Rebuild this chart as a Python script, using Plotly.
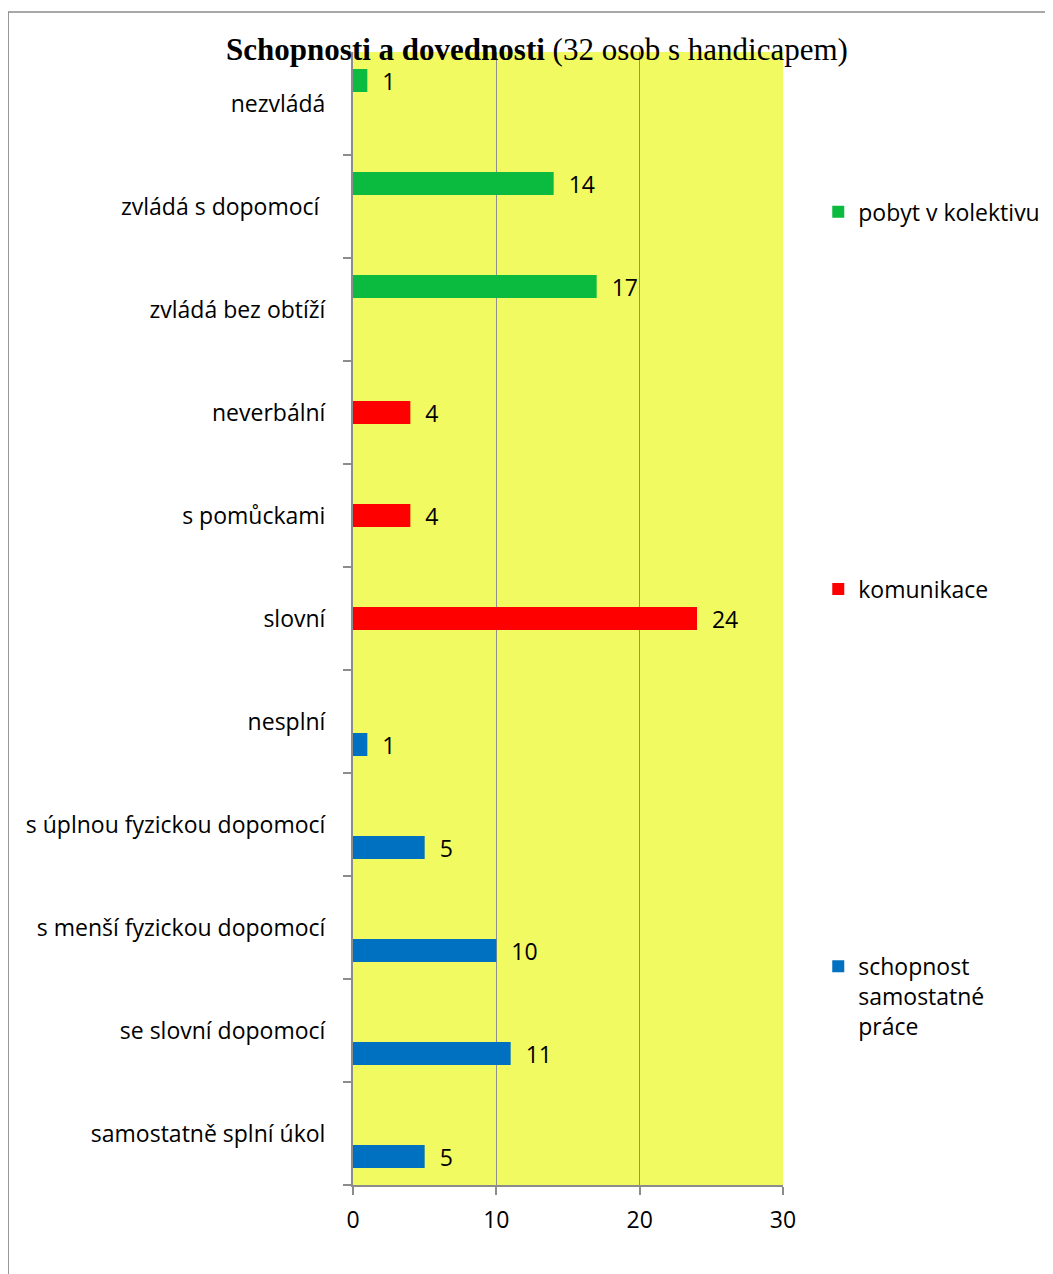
import plotly.graph_objects as go

# categories from bottom to top (plotly puts the first category at the bottom)
categories = [
    "samostatně splní úkol",
    "se slovní dopomocí",
    "s menší fyzickou dopomocí",
    "s úplnou fyzickou dopomocí",
    "nesplní",
    "slovní",
    "s pomůckami",
    "neverbální",
    "zvládá bez obtíží",
    "zvládá s dopomocí\u00a0",
    "nezvládá",
]
samostatna_prace = [5, 11, 10, 5, 1, None, None, None, None, None, None]
komunikace = [None, None, None, None, None, 24, 4, 4, None, None, None]
kolektiv = [None, None, None, None, None, None, None, None, 17, 14, 1]

x_ticks = [0, 10, 20, 30]

FONT = "Open Sans, sans-serif"
FONT_SIZE = 23
AXIS_GREY = "#8c8c8c"

series = [
    ("schopnost<br>samostatné<br>práce", samostatna_prace, "#0070C0", "legend3"),
    ("komunikace", komunikace, "#FF0000", "legend2"),
    ("pobyt v kolektivu", kolektiv, "#0BBB40", "legend"),
]

fig = go.Figure()
for name, values, color, legend in series:
    fig.add_trace(
        go.Bar(
            y=categories,
            x=values,
            name=name,
            orientation="h",
            marker={"color": color, "line": {"width": 0}},
            texttemplate="\u00a0\u00a0%{x}",
            textposition="outside",
            constraintext="none",
            textfont={"size": FONT_SIZE, "color": "black", "family": FONT},
            cliponaxis=False,
            legend=legend,
            hovertemplate="%{y}: %{x}<extra></extra>",
        )
    )


def legend_box(y):
    return {
        "x": 1.082,
        "xanchor": "left",
        "y": y,
        "yanchor": "top",
        "valign": "top",
        "bgcolor": "rgba(0,0,0,0)",
        "font": {"size": FONT_SIZE, "family": FONT, "color": "black"},
    }


# the page adds an 8px body margin, so the figure is 8px smaller than the window
fig.update_layout(
    width=1045,
    height=1266,
    barmode="group",
    bargap=0.33,
    paper_bgcolor="white",
    plot_bgcolor="#F1FA60",
    font={"family": FONT, "size": FONT_SIZE, "color": "black"},
    margin={"l": 345, "r": 270, "t": 44, "b": 89, "autoexpand": False},
    title={
        "text": "<b>Schopnosti a dovednosti</b> (32 osob s handicapem)",
        "font": {"family": "Liberation Serif, serif", "size": 31, "color": "black"},
        "x": 529 / 1045,
        "xanchor": "center",
        "y": 1 - 41 / 1266,
        "yanchor": "middle",
        "xref": "container",
        "yref": "container",
    },
    showlegend=True,
    legend=legend_box(0.878),
    legend2=legend_box(0.545),
    legend3=legend_box(0.212),
    shapes=[
        {
            "type": "rect",
            "xref": "paper",
            "yref": "paper",
            "x0": -0.802,
            "x1": 1.8,
            "y0": -0.2,
            "y1": 1.0353,
            "line": {"color": AXIS_GREY, "width": 1.5},
            "layer": "below",
        }
    ],
)

fig.update_xaxes(
    range=[0, 30],
    tickvals=x_ticks,
    ticktext=[str(v) for v in x_ticks],
    showgrid=True,
    gridcolor="#8f8f8f",
    gridwidth=1,
    zeroline=False,
    showline=True,
    linecolor=AXIS_GREY,
    linewidth=2,
    ticks="outside",
    ticklen=8,
    tickcolor=AXIS_GREY,
    tickwidth=1.5,
    ticklabelstandoff=5,
    tickfont={"size": FONT_SIZE, "family": FONT, "color": "black"},
    fixedrange=True,
)
fig.update_yaxes(
    type="category",
    showgrid=False,
    showline=True,
    linecolor=AXIS_GREY,
    linewidth=2,
    ticks="outside",
    tickson="boundaries",
    ticklen=8,
    tickcolor=AXIS_GREY,
    tickwidth=1.5,
    ticklabelstandoff=21,
    tickfont={"size": FONT_SIZE, "family": FONT, "color": "black"},
    fixedrange=True,
)

fig.write_html("out.html")
